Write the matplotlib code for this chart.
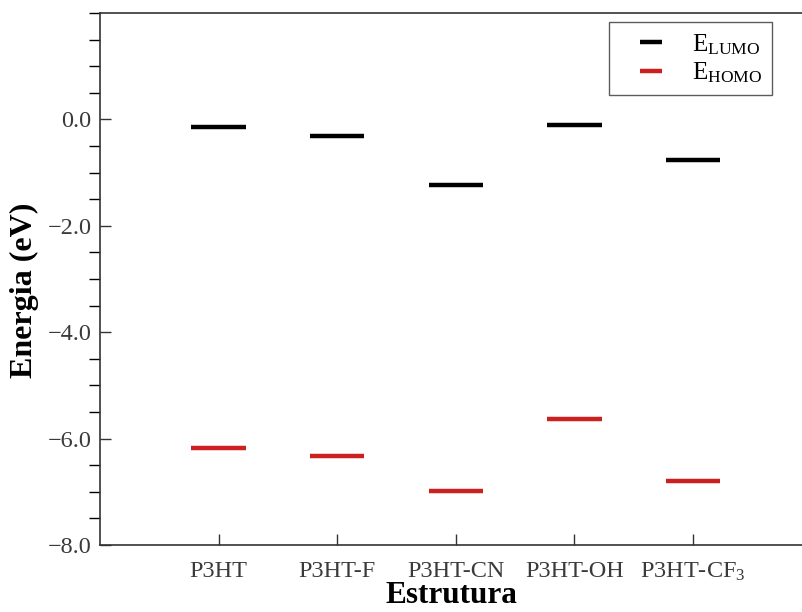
import numpy as np
import matplotlib
matplotlib.use("Agg")
from matplotlib import pyplot as plt
from matplotlib.ticker import MultipleLocator
from matplotlib.lines import Line2D

plt.rcParams["font.family"] = ["Liberation Serif", "DejaVu Serif"]
plt.rcParams["mathtext.fontset"] = "custom"
plt.rcParams["mathtext.rm"] = "Liberation Serif"
plt.rcParams["mathtext.it"] = "Liberation Serif:italic"
plt.rcParams["mathtext.bf"] = "Liberation Serif:bold"

# Frontier orbital energies (eV) per structure
estruturas = ["P3HT", "P3HT-F", "P3HT-CN", "P3HT-OH", r"P3HT-CF$_3$"]
e_lumo = [-0.15, -0.32, -1.23, -0.10, -0.77]
e_homo = [-6.18, -6.32, -6.99, -5.64, -6.80]

gray = "#333333"
red = "#cc1f1f"

fig = plt.figure(figsize=(8.02, 6.12), dpi=100)
ax = fig.add_axes([100 / 802, 1 - 545 / 612, 1 - 100 / 802, (545 - 13) / 612])

x = np.arange(1, len(estruturas) + 1)
half = 0.23
ax.hlines(e_lumo, x - half, x + half, colors="black", linewidth=3.2)
ax.hlines(e_homo, x - half, x + half, colors=red, linewidth=3.2)

ax.set_xlim(0, 702 / 118.6)
ax.set_ylim(-8, 2)
ax.set_xticks(x)
ax.set_xticklabels(estruturas)
ax.set_yticks([-8, -6, -4, -2, 0])
ax.set_yticklabels(["\u22128.0", "\u22126.0", "\u22124.0", "\u22122.0", "0.0"])
ax.yaxis.set_minor_locator(MultipleLocator(0.5))

ax.spines["right"].set_visible(False)
for s in ["left", "top", "bottom"]:
    ax.spines[s].set_color(gray)
    ax.spines[s].set_linewidth(1.2)

ax.tick_params(axis="both", direction="in", color=gray, labelcolor="#3a3a3a", labelsize=17.5)
ax.tick_params(axis="y", which="both", length=8, width=1, pad=6)
ax.tick_params(axis="x", length=8, width=1, pad=11.5)
ax.tick_params(axis="x", which="minor", bottom=False)

ax.set_xlabel("Estrutura", fontsize=22.5, fontweight="bold", labelpad=-1.5)
ax.set_ylabel("Energia (eV)", fontsize=23, fontweight="bold")
ax.yaxis.set_label_coords(-0.087, 0.479)

# short level markers for the legend
handles = [
    Line2D([], [], color="black", marker="_", markersize=16, markeredgewidth=3.2, linestyle="None"),
    Line2D([], [], color=red, marker="_", markersize=16, markeredgewidth=3.2, linestyle="None"),
]
labels = [r"E$_{\mathrm{LUMO}}$", r"E$_{\mathrm{HOMO}}$"]
leg = ax.legend(handles, labels, loc="upper right", bbox_to_anchor=(772 / 802, 1 - 22 / 612),
                bbox_transform=fig.transFigure, borderaxespad=0, fontsize=18,
                frameon=True, fancybox=False, numpoints=1, handlelength=2.5,
                handletextpad=0.4, borderpad=0.4, labelspacing=0.15)
leg.get_frame().set_edgecolor(gray)
leg.get_frame().set_linewidth(1.0)

fig.savefig("out.png", dpi=100)
